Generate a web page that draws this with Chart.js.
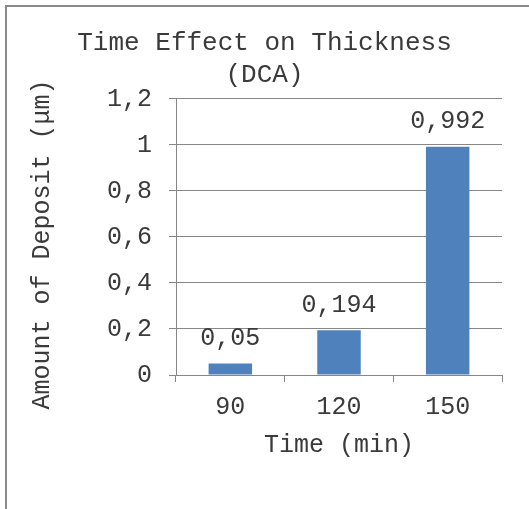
<!DOCTYPE html>
<html>
<head>
<meta charset="utf-8">
<script src="https://cdn.jsdelivr.net/npm/chart.js@4/dist/chart.umd.min.js"></script>
<style>
    html, body { margin: 0; padding: 0; background: #fff; }
    #wrap { position: relative; width: 529px; height: 509px; }
    #frame {
        position: absolute; left: 5px; top: 5px; right: -10px; bottom: -10px;
        border-top: 2px solid #8a8a8a; border-left: 2px solid #8a8a8a;
    }
    canvas { position: absolute; left: 0; top: 0; }
</style>
</head>
<body>
<div id="wrap">
    <div id="frame"></div>
    <canvas id="chart" width="529" height="509"></canvas>
</div>
<script>
const categories = ['90', '120', '150'];
const deposit    = [0.05, 0.194, 0.992];
const yTicks     = [0, 0.2, 0.4, 0.6, 0.8, 1, 1.2];

const titleLines = ['Time Effect on Thickness', '(DCA)'];
const xTitle = 'Time (min)';
// trailing space nudges the rotated title down a little, as in the original
const yTitle = 'Amount of Deposit (μm)\u00a0';

const FONT = '"Liberation Mono", "Courier New", monospace';
const textColor = '#3a3a3a';
const gridColor = '#878787';

// comma decimal like the original
function fmt(v) {
    return String(Number(v.toFixed(3))).replace('.', ',');
}

// draw the values above each bar
const barValues = {
    id: 'barValues',
    afterDatasetsDraw(chart) {
        const ctx = chart.ctx;
        const meta = chart.getDatasetMeta(0);
        ctx.save();
        ctx.font = '25px ' + FONT;
        ctx.fillStyle = textColor;
        ctx.textAlign = 'center';
        ctx.textBaseline = 'middle';
        meta.data.forEach((bar, i) => {
            ctx.fillText(fmt(deposit[i]), bar.x, bar.y - 25);
        });
        ctx.restore();
    }
};

new Chart(document.getElementById('chart'), {
    type: 'bar',
    data: {
        labels: categories,
        datasets: [{
            data: deposit,
            backgroundColor: '#4F81BD',
            categoryPercentage: 1,
            barPercentage: 0.4,
        }]
    },
    options: {
        responsive: false,
        devicePixelRatio: 1,
        animation: false,
        layout: { padding: { left: 0, right: 0, top: 0, bottom: 49 } },
        plugins: {
            legend: { display: false },
            tooltip: { enabled: false },
            title: {
                display: true,
                text: titleLines,
                color: textColor,
                font: { family: FONT, size: 26, weight: 'normal', lineHeight: 1.23 },
                padding: { top: 27, bottom: 8 }
            }
        },
        scales: {
            x: {
                grid: { drawOnChartArea: false, drawTicks: true, tickLength: 7, color: gridColor, lineWidth: 1 },
                border: { display: true, color: gridColor, width: 1 },
                ticks: { color: textColor, padding: 10, font: { family: FONT, size: 25 } },
                title: {
                    display: true, text: xTitle, color: textColor,
                    font: { family: FONT, size: 25, lineHeight: 1.2 },
                    padding: { top: 6, bottom: 0 }
                },
                afterFit: (scale) => { scale.height = 85; }
            },
            y: {
                min: 0,
                max: 1.2,
                afterBuildTicks: (scale) => { scale.ticks = yTicks.map(v => ({ value: v })); },
                grid: { drawTicks: true, tickLength: 7, color: gridColor, lineWidth: 1 },
                border: { display: true, color: gridColor, width: 1 },
                ticks: { color: textColor, padding: 17, font: { family: FONT, size: 25 }, callback: (v) => fmt(v) },
                title: {
                    display: true, text: yTitle, color: textColor,
                    font: { family: FONT, size: 25, lineHeight: 1.2 },
                    padding: { top: 27, bottom: 0 }
                },
                afterFit: (scale) => { scale.width = 176; }
            },
            // empty right-side spacer so the plot ends where the original does
            spacer: {
                type: 'linear',
                position: 'right',
                display: true,
                grid: { display: false },
                border: { display: false },
                ticks: { display: false },
                afterFit: (scale) => { scale.width = 27; }
            }
        }
    },
    plugins: [barValues]
});
</script>
</body>
</html>
